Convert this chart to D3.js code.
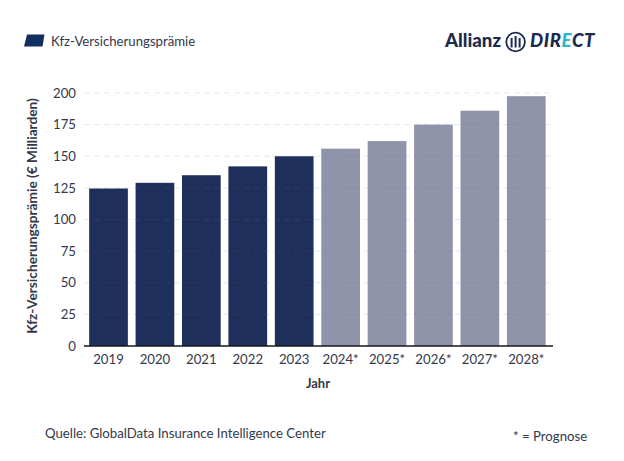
<!DOCTYPE html>
<html>
<head>
<meta charset="utf-8">
<script src="https://cdn.jsdelivr.net/npm/d3@7"></script>
<style>
html, body { margin: 0; padding: 0; background: #fff; }
svg { display: block; }
text { font-family: Lato, "Open Sans", sans-serif; fill: #33384a; }
</style>
</head>
<body>
<svg width="624" height="461"></svg>
<script>
var years = ['2019','2020','2021','2022','2023','2024*','2025*','2026*','2027*','2028*'];
var premiums = [124.5,129,135,142,150,156,162,175,186,197.5];
var forecast = [false,false,false,false,false,true,true,true,true,true];
var yTicks = [0,25,50,75,100,125,150,175,200];

var svg = d3.select('svg');

var ScaleX = d3.scaleBand().domain(years).range([85.3, 549.5]).paddingInner(0.166).paddingOuter(0.083);
var ScaleY = d3.scaleLinear().domain([0,200]).range([346, 93]);

//bars
svg.selectAll('.bar')
    .data(years)
    .enter()
    .append('rect')
    .attr('class','bar')
    .attr('x', function(d){ return ScaleX(d); })
    .attr('y', function(d,i){ return ScaleY(premiums[i]); })
    .attr('width', ScaleX.bandwidth())
    .attr('height', function(d,i){ return ScaleY(0) - ScaleY(premiums[i]); })
    .attr('fill', function(d,i){ return forecast[i] ? '#8f94ab' : '#1f2f5c'; });

//grid lines, they show faintly over the bars
svg.selectAll('.grid')
    .data(yTicks.slice(1))
    .enter()
    .append('line')
    .attr('class','grid')
    .attr('x1', 84)
    .attr('x2', 553)
    .attr('y1', function(d){ return ScaleY(d); })
    .attr('y2', function(d){ return ScaleY(d); })
    .attr('stroke', '#6b7088')
    .attr('stroke-opacity', 0.16)
    .attr('stroke-dasharray', '6 4');

//y axis
var yAxis = svg.append('g')
    .attr('transform', 'translate(84,0)')
    .call(d3.axisLeft(ScaleY).tickValues(yTicks).tickSize(0).tickPadding(8));
yAxis.select('.domain').remove();
yAxis.selectAll('text').style('font-size','13.2px').style('font-family','Lato').attr('fill','#33384a');

//x axis
var xAxis = svg.append('g')
    .attr('transform', 'translate(0,346)')
    .call(d3.axisBottom(ScaleX).tickSize(0).tickPadding(8.5));
xAxis.select('.domain').remove();
xAxis.selectAll('text').style('font-size','13.2px').style('font-family','Lato').attr('fill','#33384a');

svg.append('line')
    .attr('x1', 84).attr('x2', 553)
    .attr('y1', 346).attr('y2', 346)
    .attr('stroke', '#14171f')
    .attr('stroke-width', 1.5);

//axis titles
svg.append('text')
    .attr('x', 318).attr('y', 388)
    .attr('text-anchor','middle')
    .style('font-size','13px').style('font-weight','700')
    .text('Jahr');
svg.append('text')
    .attr('transform', 'translate(37,216) rotate(-90)')
    .attr('text-anchor','middle')
    .style('font-size','13.7px').style('font-weight','700')
    .text('Kfz-Versicherungsprämie (€ Milliarden)');

//legend
svg.append('path')
    .attr('d', 'M27,34.5 H44.5 L42.5,46.5 H24 Z')
    .attr('fill', '#12305f');
svg.append('text')
    .attr('x', 51).attr('y', 46)
    .style('font-size','13.2px')
    .text('Kfz-Versicherungsprämie');

//notes
svg.append('text')
    .attr('x', 45).attr('y', 438)
    .style('font-size','13.2px')
    .text('Quelle: GlobalData Insurance Intelligence Center');
svg.append('text')
    .attr('x', 513).attr('y', 441)
    .style('font-size','13.2px')
    .text('* = Prognose');

//logo
var logo = svg.append('g');
logo.append('text')
    .attr('x', 445).attr('y', 47.3)
    .style('font-size','18.6px').style('font-weight','900')
    .style('fill','#1b2a4e')
    .text('Allianz');
logo.append('circle')
    .attr('cx', 515.6).attr('cy', 42).attr('r', 9.3)
    .attr('fill','none').attr('stroke','#1b2a4e').attr('stroke-width',1.8);
logo.selectAll('.logoBar')
    .data([-4,0,4])
    .enter()
    .append('line')
    .attr('class','logoBar')
    .attr('x1', function(d){ return 515.6 + d; })
    .attr('x2', function(d){ return 515.6 + d; })
    .attr('y1', function(d){ return d == 0 ? 36 : 38; })
    .attr('y2', 47.5)
    .attr('stroke','#1b2a4e')
    .attr('stroke-width',2);
var direct = logo.append('text')
    .attr('x', 530).attr('y', 47.3)
    .style('font-size','18.6px').style('font-weight','900').style('font-style','italic')
    .style('letter-spacing','0.6px')
    .style('fill','#1b2a4e');
direct.append('tspan').text('DIR');
direct.append('tspan').style('fill','#2bb8c4').text('E');
direct.append('tspan').text('CT');
</script>
</body>
</html>
